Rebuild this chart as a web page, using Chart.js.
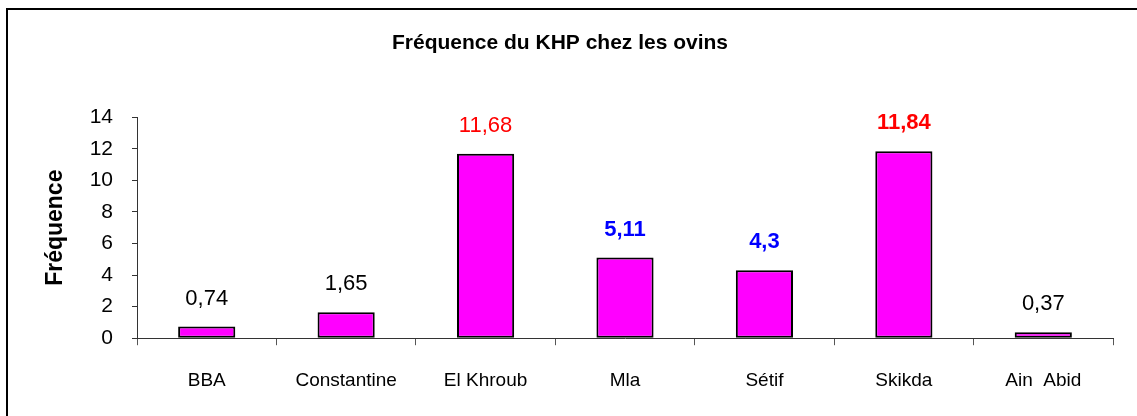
<!DOCTYPE html>
<html>
<head>
<meta charset="utf-8">
<script src="https://cdn.jsdelivr.net/npm/chart.js@4"></script>
<style>
    body { margin: 0; background: #fff; }
    canvas { display: block; }
</style>
</head>
<body>
<canvas id="khpChart" width="1137" height="416"></canvas>
<script>
// data
const regions = ['BBA', 'Constantine', 'El Khroub', 'Mla', 'Sétif', 'Skikda', 'Ain  Abid'];
const frequencies = [0.74, 1.65, 11.68, 5.11, 4.3, 11.84, 0.37];
const yTicks = [0, 2, 4, 6, 8, 10, 12, 14];

// label styling per bar
const labelColors = ['#000000', '#000000', '#FF0000', '#0000FF', '#0000FF', '#FF0000', '#000000'];
const labelBold = [false, false, false, true, true, true, false];

const fontFamily = '"Liberation Sans", Arial, sans-serif';

// frame: only the top and left lines are visible in the picture
const framePlugin = {
    id: 'frame',
    beforeDraw(chart) {
        let ctx = chart.ctx;
        ctx.save();
        ctx.fillStyle = '#ffffff';
        ctx.fillRect(0, 0, chart.width, chart.height);
        ctx.strokeStyle = '#000000';
        ctx.lineWidth = 2;
        ctx.beginPath();
        ctx.moveTo(7, chart.height);
        ctx.lineTo(7, 9);
        ctx.lineTo(chart.width, 9);
        ctx.stroke();
        ctx.restore();
    }
};

// value labels above each bar
const valueLabels = {
    id: 'valueLabels',
    afterDatasetsDraw(chart) {
        let ctx = chart.ctx;
        let meta = chart.getDatasetMeta(0);
        ctx.save();
        ctx.textAlign = 'center';
        ctx.textBaseline = 'middle';
        meta.data.forEach(function (bar, i) {
            ctx.font = (labelBold[i] ? 'bold ' : '') + '22px ' + fontFamily;
            ctx.fillStyle = labelColors[i];
            let text = String(frequencies[i]).replace('.', ',');
            ctx.fillText(text, bar.x, bar.y - 28);
        });
        ctx.restore();
    }
};

let ctx = document.getElementById('khpChart').getContext('2d');
let chart = new Chart(ctx, {
    type: 'bar',
    data: {
        labels: regions,
        datasets: [{
            data: frequencies,
            backgroundColor: '#FF00FF',
            borderColor: '#000000',
            borderWidth: 2,
            borderSkipped: false,
            categoryPercentage: 1,
            barPercentage: 0.41
        }]
    },
    options: {
        responsive: false,
        animation: false,
        devicePixelRatio: 1,
        layout: {
            padding: { left: 7, right: 24, top: 0, bottom: 0 }
        },
        plugins: {
            legend: { display: false },
            tooltip: { enabled: false },
            title: {
                display: true,
                text: 'Fréquence du KHP chez les ovins',
                color: '#000000',
                font: { family: fontFamily, size: 21, weight: 'bold' },
                padding: { top: 31, bottom: 61 }
            }
        },
        scales: {
            x: {
                grid: {
                    display: true,
                    drawOnChartArea: false,
                    drawTicks: true,
                    tickLength: 7,
                    color: '#555555',
                    offset: true
                },
                border: { display: true, color: '#333333', width: 1 },
                ticks: {
                    color: '#000000',
                    padding: 24,
                    maxRotation: 0,
                    autoSkip: false,
                    font: { family: fontFamily, size: 19 }
                }
            },
            y: {
                min: 0,
                max: 14,
                afterBuildTicks: function (scale) {
                    scale.ticks = yTicks.map(v => ({ value: v }));
                },
                afterFit: function (scale) {
                    scale.width = 130;
                },
                grid: {
                    display: true,
                    drawOnChartArea: false,
                    drawTicks: true,
                    tickLength: 5,
                    color: '#333333'
                },
                border: { display: true, color: '#333333', width: 1 },
                ticks: {
                    color: '#000000',
                    padding: 19,
                    font: { family: fontFamily, size: 21 }
                },
                title: {
                    display: true,
                    text: 'Fréquence',
                    color: '#000000',
                    font: { family: fontFamily, size: 23, weight: 'bold' },
                    padding: { top: 35, bottom: 0 }
                }
            }
        }
    },
    plugins: [framePlugin, valueLabels]
});
</script>
</body>
</html>
